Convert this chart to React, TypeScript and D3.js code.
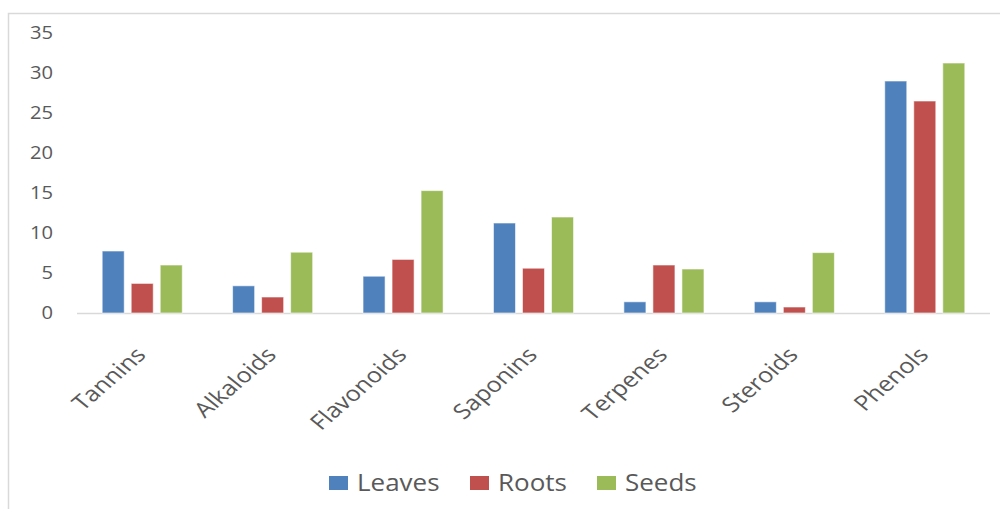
import { useMemo } from "react";
import * as d3 from "d3";

const CATEGORIES = ["Tannins", "Alkaloids", "Flavonoids", "Saponins", "Terpenes", "Steroids", "Phenols"];
const SERIES = ["Leaves", "Roots", "Seeds"];
const LEAVES = [7.75, 3.4, 4.6, 11.25, 1.4, 1.4, 29.0];
const ROOTS = [3.7, 2.0, 6.7, 5.6, 6.0, 0.75, 26.5];
const SEEDS = [6.0, 7.6, 15.3, 12.0, 5.5, 7.55, 31.25];
const Y_TICKS = [0, 5, 10, 15, 20, 25, 30, 35];
const COLORS = ["#4F81BD", "#C0504D", "#9BBB59"];

const W = 1000;
const H = 509;
const ML = 77;
const MR = 10;
const MT = 33;
const BASE = 313;
const FONT = "'Open Sans', sans-serif";
const TXT = "#595959";

export default function App() {
  const values = [LEAVES, ROOTS, SEEDS];

  const { x0, x1, y } = useMemo(() => {
    const x0 = d3
      .scaleBand()
      .domain(CATEGORIES)
      .range([ML, W - MR])
      .paddingInner(0.386)
      .paddingOuter(0.193);
    const x1 = d3
      .scaleBand()
      .domain(SERIES)
      .range([0, x0.bandwidth()])
      .paddingInner(0.24);
    const y = d3.scaleLinear().domain([0, 35]).range([BASE, MT]);
    return { x0, x1, y };
  }, []);

  const legendX = [329, 470, 597];

  return (
    <svg
      width={W}
      height={H}
      style={{ position: "absolute", left: 0, top: 0, background: "#fff" }}
    >
      <rect x={8.5} y={13.5} width={W + 10} height={H + 10} fill="#fff" stroke="#d9d9d9" strokeWidth={1.5} />

      <g fontFamily={FONT} fontSize={18} fill={TXT}>
        {Y_TICKS.map((t) => (
          <text
            key={t}
            textAnchor="end"
            dy="0.35em"
            transform={`translate(53,${y(t)}) scale(1.12,1)`}
          >
            {t}
          </text>
        ))}
      </g>

      <line x1={ML} x2={W - MR} y1={BASE + 0.5} y2={BASE + 0.5} stroke="#d9d9d9" strokeWidth={1.5} />

      {CATEGORIES.map((c, i) => (
        <g key={c} transform={`translate(${x0(c)},0)`}>
          {SERIES.map((s, j) => (
            <rect
              key={s}
              x={x1(s)}
              y={y(values[j][i])}
              width={x1.bandwidth()}
              height={BASE - y(values[j][i])}
              fill={COLORS[j]}
              stroke="#ffffff"
              strokeOpacity={0.6}
              strokeWidth={1}
            />
          ))}
        </g>
      ))}

      <g fontFamily={FONT} fontSize={21} fill={TXT}>
        {CATEGORIES.map((c) => (
          <text
            key={c}
            textAnchor="end"
            transform={`translate(${(x0(c) ?? 0) + x0.bandwidth() / 2 + 5},356) scale(1.2,1) rotate(-46)`}
          >
            {c}
          </text>
        ))}
      </g>

      <g fontFamily={FONT} fontSize={23} fill={TXT}>
        {SERIES.map((s, j) => (
          <g key={s}>
            <rect x={legendX[j]} y={476} width={19} height={14} fill={COLORS[j]} />
            <text transform={`translate(${legendX[j] + 28},491) scale(1.13,1)`}>{s}</text>
          </g>
        ))}
      </g>
    </svg>
  );
}
